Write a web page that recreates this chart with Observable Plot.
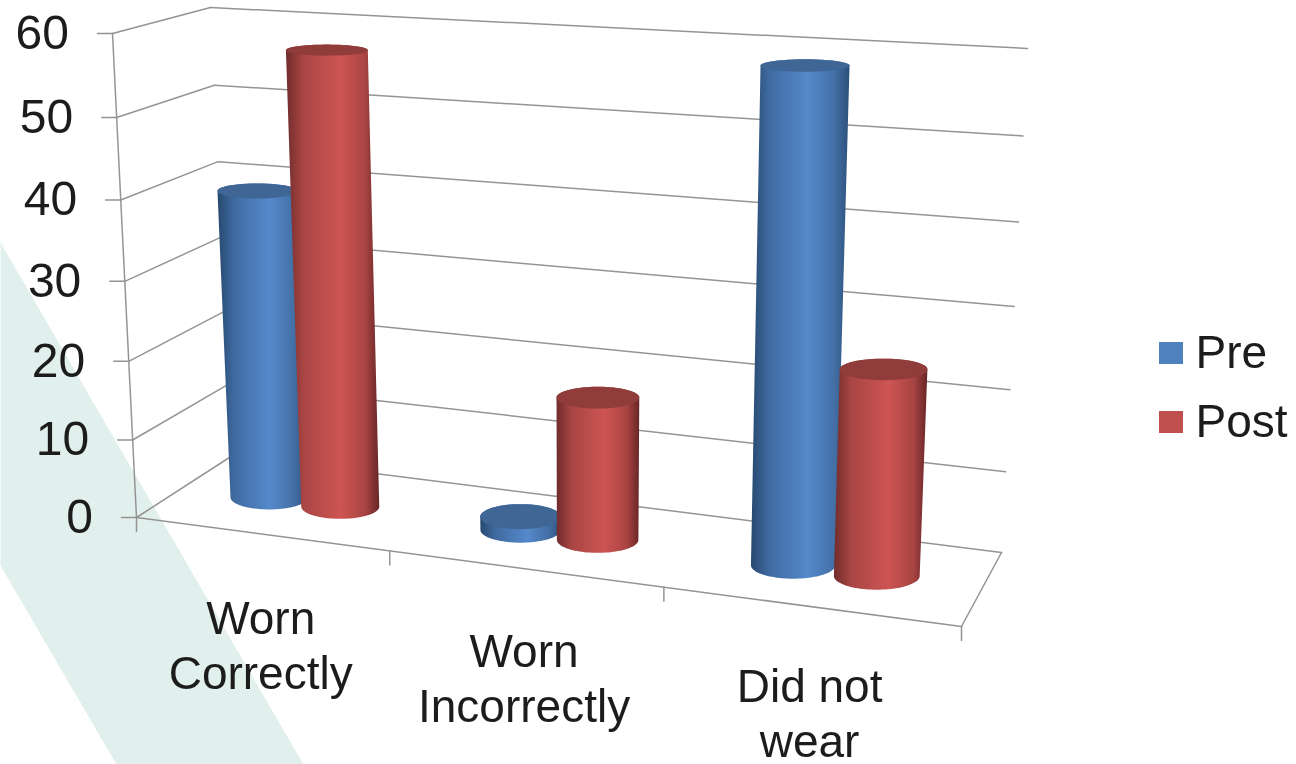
<!DOCTYPE html>
<html>
<head>
<meta charset="utf-8">
<style>html,body{margin:0;padding:0;background:#fff;overflow:hidden}svg{display:block}</style>
<script src="https://cdn.jsdelivr.net/npm/d3@7"></script>
<script src="https://cdn.jsdelivr.net/npm/@observablehq/plot@0.6"></script>
</head>
<body>
<div id="chart"></div>
<script>
// ---- data ----
const categories = ["Worn\nCorrectly", "Worn\nIncorrectly", "Did not\nwear"];
const seriesNames = ["Pre", "Post"];
const preValues = [39.6, 1.7, 58.8];
const postValues = [57.5, 17.8, 24.7];
const valueTicks = [0, 10, 20, 30, 40, 50, 60];

// ---- colours ----
const blue = "#4f81bd", red = "#c0504d";
const font = "Liberation Sans, Arial, sans-serif";
const textColor = "#1c1c1c";

// ---- box projection: u along categories, v into depth, w = value ----
const box = {
  b00: [136, 517], b10: [961, 626], b01: [232, 455], b11: [1001, 552],
  t00: [112, 33],  t10: [981, 82],  t01: [210, 7],   t11: [1027, 48]
};
const warp = (t, k) => t * k / (1 + (k - 1) * t);
const lerp = (a, b, t) => a + (b - a) * t;
function P(u, v, value) {
  const U = warp(u, 0.886), W = warp(value / 60, 0.953);
  return [0, 1].map(i => {
    const bot = lerp(lerp(box.b00[i], box.b10[i], U), lerp(box.b01[i], box.b11[i], U), v);
    const top = lerp(lerp(box.t00[i], box.t10[i], U), lerp(box.t01[i], box.t11[i], U), v);
    return lerp(bot, top, W);
  });
}
const X = d => d[0], Y = d => d[1];

// ---- cylinders: level ellipses sized from the projected box ----
const du = 0.0485, ru = 0.0475, rv = 0.19;
function ellipse(u, value, from, to) {
  const c = P(u, 0.5, value);
  const rx = (P(u + ru, 0.5, value)[0] - P(u - ru, 0.5, value)[0]) / 2 + lerp(4.5, 1, u);
  const ry = (P(u, 0.5 - rv, value)[1] - P(u, 0.5 + rv, value)[1]) / 2;
  const n = 48;
  return d3.range(n + 1).map(i => {
    const t = from + (to - from) * i / n;
    return [c[0] + rx * Math.cos(t), c[1] + ry * Math.sin(t)];
  });
}
function cylinder(u, value, name) {
  const lower = ellipse(u, 0, Math.PI, 0);            // front edge of the base, left to right
  const upper = ellipse(u, value, 0, -Math.PI);       // back edge of the top, right to left
  return [
    Plot.line([...lower, ...upper], {x: X, y: Y, fill: `url(#body${name})`, stroke: "none", curve: "linear"}),
    Plot.line(ellipse(u, value, 0, 2 * Math.PI), {x: X, y: Y, fill: name === "Pre" ? "#3f6695" : "#8f3c3a", stroke: "none", curve: "linear"})
  ];
}
function gradient(id, stops) {
  const g = d3.create("svg:linearGradient").attr("id", id).attr("x1", 0).attr("x2", 1).attr("y1", 0).attr("y2", 0);
  stops.forEach(([o, c]) => g.append("stop").attr("offset", o).attr("stop-color", c));
  return g.node();
}
const defs = () => {
  const d = d3.create("svg:defs");
  d.node().append(
    gradient("bodyPre", [[0, "#27486f"], [0.18, "#3f6a9f"], [0.58, "#5589cb"], [0.85, "#436fa5"], [1, "#2c4f7a"]]),
    gradient("bodyPost", [[0, "#6f2c2c"], [0.18, "#a84543"], [0.58, "#cd5553"], [0.85, "#a84442"], [1, "#672626"]])
  );
  return d.node();
};

const gridColor = "#949494";
const seg = (a, b, o = {}) => Plot.line([a, b], {x: X, y: Y, stroke: gridColor, strokeWidth: 1.5, ...o});

const marks = [defs];
// background band
marks.push(Plot.line([[0, 242], [303, 764], [116, 764], [0, 565]], {x: X, y: Y, fill: "#e2f0ed", stroke: "none"}));
// walls
valueTicks.forEach(w => {
  if (w > 0) marks.push(seg(P(0, 1, w), P(1, 1, w)));
  marks.push(seg(P(0, 0, w), P(0, 1, w)));
  const p = P(0, 0, w);
  marks.push(seg([p[0] - 15, p[1]], p));
});
marks.push(seg(P(0, 1, 0), P(1, 1, 0)));
marks.push(seg(P(0, 0, 0), P(0, 0, 60)));
marks.push(seg(P(0, 0, 0), P(1, 0, 0)));
marks.push(seg(P(1, 0, 0), P(1, 1, 0)));
[0, 1, 2, 3].forEach(i => {
  const p = P(i / 3, 0, 0);
  marks.push(seg(p, [p[0], p[1] + 14]));
});
// cylinders
categories.forEach((c, i) => {
  const u = (i + 0.5) / 3;
  marks.push(...cylinder(u - du, preValues[i], "Pre"));
  marks.push(...cylinder(u + du, postValues[i], "Post"));
});
// value labels
marks.push(Plot.text(valueTicks, {
  x: w => P(0, 0, w)[0] - 43.5, y: w => P(0, 0, w)[1], text: w => String(w),
  textAnchor: "end", fontSize: 48, fontFamily: font, fill: textColor
}));
// category labels
marks.push(Plot.text(categories, {
  x: (c, i) => P((i + 0.5) / 3, 0, 0)[0], y: (c, i) => P((i + 0.5) / 3, 0, 0)[1] * 0.94 + 142,
  text: c => c, textAnchor: "middle", lineAnchor: "middle", lineHeight: 1.2, fontSize: 46, fontFamily: font, fill: textColor
}));
// legend
seriesNames.forEach((s, i) => {
  const y0 = 342 + i * 69;
  marks.push(Plot.rect([s], {x1: () => 1159, x2: () => 1183, y1: () => y0, y2: () => y0 + 22, fill: i ? red : blue}));
  marks.push(Plot.text([s], {x: () => 1195, y: () => y0 + 11, text: d => d, textAnchor: "start", fontSize: 46, fontFamily: font, fill: textColor}));
});

const chart = Plot.plot({
  width: 1296, height: 764, margin: 0,
  style: {background: "#fff", filter: "blur(0.5px)"},
  x: {type: "linear", domain: [0, 1296], range: [0, 1296], axis: null},
  y: {type: "linear", domain: [0, 764], range: [0, 764], axis: null},
  marks
});
document.getElementById("chart").append(chart);
</script>
</body>
</html>
